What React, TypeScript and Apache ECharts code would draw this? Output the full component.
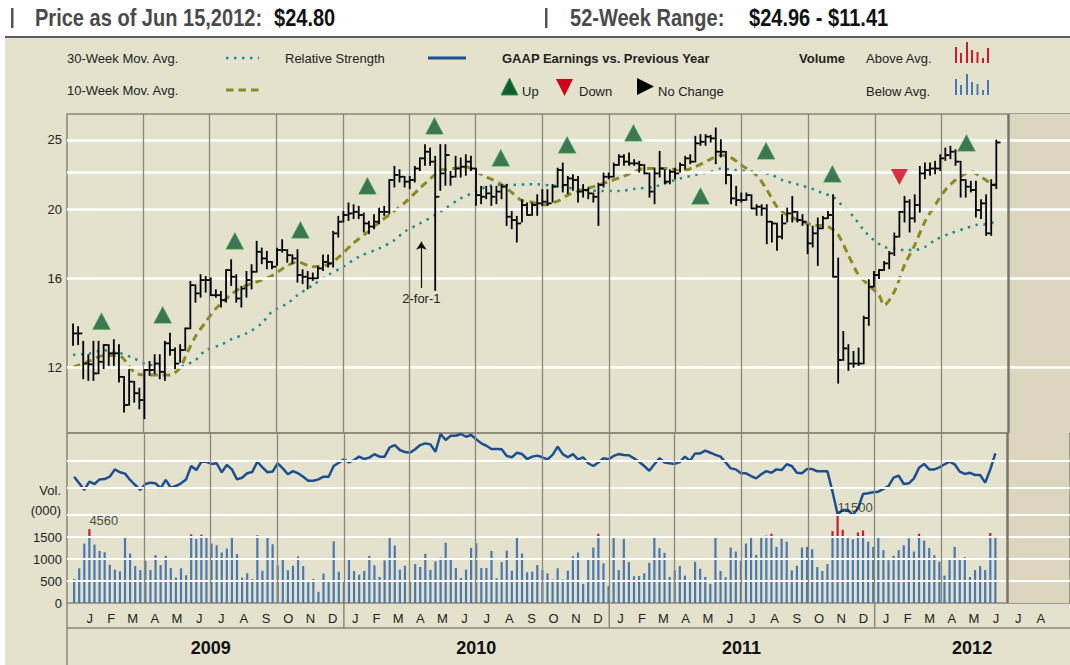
import React, { useEffect, useRef } from "react";
import * as echarts from "echarts";

const FONT = '"Liberation Sans", Arial, Helvetica, sans-serif';
const DAY = 86400000;
const FIRST_WEEK = Date.UTC(2008, 11, 26);
const weekDate = (i: number) => FIRST_WEEK + i * 7 * DAY;
const X_MIN = Date.UTC(2009, 0, 1) - 14.27 * DAY;
const X_MAX = Date.UTC(2009, 0, 1) + 1362.1 * DAY;
const FUTURE_START = Date.UTC(2012, 6, 1);

// Weekly price bars (Dec 26 2008 .. Jun 15 2012)
const highs = [
  13.78, 13.66, 13.03, 12.48, 13.03, 13.03, 12.89, 12.89, 13.1, 12.89,
  11.63, 11.89, 11.45, 11.2, 11.89, 12.21, 12.48, 12.48, 13.03, 13.38,
  12.75, 12.89, 13.6, 15.81, 15.64, 16.16, 16.07, 15.99, 15.39, 15.31,
  16.42, 16.96, 16.16, 15.56, 16.33, 16.69, 18.0, 17.61, 17.42, 16.86,
  17.61, 18.09, 17.52, 17.23, 17.52, 16.42, 16.33, 16.25, 16.6, 17.23,
  17.23, 18.59, 19.51, 19.82, 20.37, 20.26, 20.15, 19.72, 19.2, 19.62,
  20.04, 20.15, 21.97, 22.93, 22.68, 22.2, 22.2, 22.93, 23.56, 24.6,
  24.33, 23.69, 24.6, 24.6, 22.56, 23.69, 23.56, 23.81, 23.69, 22.8,
  21.5, 21.5, 21.5, 21.5, 21.62, 21.62, 19.82, 19.51, 20.59, 20.37,
  20.37, 20.92, 21.27, 21.27, 21.62, 22.8, 23.18, 22.2, 22.33, 22.2,
  21.62, 21.39, 21.04, 21.72, 22.44, 22.44, 23.18, 23.81, 23.81, 23.94,
  23.43, 23.31, 23.06, 22.44, 22.8, 24.07, 22.68, 22.68, 22.8, 23.18,
  23.69, 23.81, 25.27, 25.41, 25.41, 25.35, 25.96, 25.0, 24.07, 22.33,
  21.5, 21.04, 21.04, 20.92, 20.26, 20.26, 20.26, 19.2, 19.09, 19.62,
  20.04, 20.81, 19.82, 19.62, 18.99, 18.9, 19.41, 19.51, 19.82, 20.92,
  17.05, 13.45, 12.89, 12.61, 12.75, 14.13, 15.9, 16.33, 16.42, 16.86,
  17.42, 18.49, 19.82, 20.81, 20.59, 20.92, 22.93, 23.18, 23.18, 23.31,
  23.81, 24.33, 24.47, 24.2, 23.31, 21.97, 21.85, 21.85, 20.59, 20.92,
  21.97, 24.96,
];
const lows = [
  12.89, 12.92, 11.57, 11.51, 11.51, 11.76, 11.96, 12.08, 12.08, 11.45,
  10.39, 10.62, 10.73, 10.5, 10.17, 11.7, 11.76, 11.57, 11.51, 12.48,
  11.96, 12.21, 12.68, 13.6, 14.82, 15.06, 15.31, 15.14, 15.06, 14.59,
  14.82, 15.64, 14.82, 14.59, 15.06, 15.47, 16.33, 16.78, 16.51, 16.51,
  16.69, 17.42, 16.86, 16.78, 15.81, 15.73, 15.47, 15.9, 15.99, 16.42,
  16.6, 16.6, 18.29, 19.2, 19.3, 19.41, 19.41, 18.59, 18.49, 18.79,
  19.09, 19.62, 19.72, 21.5, 21.85, 21.5, 21.39, 21.85, 22.68, 23.06,
  23.06, 15.4, 21.27, 21.62, 21.62, 22.2, 22.2, 22.33, 22.68, 20.26,
  20.37, 20.7, 20.26, 20.37, 20.7, 18.99, 18.79, 18.0, 19.2, 19.62,
  19.62, 19.62, 20.26, 20.26, 20.48, 21.5, 21.16, 21.04, 21.27, 20.48,
  20.81, 20.7, 20.48, 18.99, 21.5, 22.08, 22.2, 23.06, 23.06, 23.06,
  23.06, 22.56, 22.44, 20.81, 20.37, 22.2, 21.72, 21.72, 22.08, 22.56,
  22.8, 23.18, 23.31, 24.6, 24.6, 24.86, 23.18, 23.69, 21.72, 20.37,
  20.26, 20.48, 20.59, 20.04, 19.62, 19.62, 17.9, 18.0, 17.52, 18.19,
  19.2, 19.2, 19.2, 18.99, 17.33, 17.71, 16.69, 18.79, 19.41, 16.07,
  11.41, 12.28, 11.89, 12.01, 12.08, 12.14, 13.75, 15.56, 15.99, 16.42,
  16.51, 17.23, 18.29, 19.2, 18.59, 19.2, 19.82, 22.08, 22.33, 22.44,
  22.68, 23.43, 23.56, 23.06, 20.81, 20.81, 21.16, 19.51, 19.41, 18.39,
  18.39, 21.39,
];
const closes = [
  13.38, 13.38, 12.14, 12.11, 11.76, 12.21, 12.89, 12.55, 12.55, 11.63,
  10.62, 11.45, 11.03, 10.79, 11.89, 11.89, 12.14, 11.82, 12.96, 12.68,
  12.14, 12.68, 13.6, 15.64, 15.23, 15.9, 15.9, 15.14, 15.14, 14.9,
  16.42, 16.07, 14.98, 15.47, 15.9, 16.33, 17.42, 17.05, 16.86, 16.6,
  17.52, 17.52, 17.23, 17.05, 16.16, 16.07, 15.99, 15.99, 16.51, 16.86,
  16.78, 18.49, 19.2, 19.62, 19.72, 19.82, 19.62, 19.09, 18.9, 19.2,
  19.82, 19.82, 21.97, 22.33, 22.2, 21.85, 21.97, 22.8, 23.56, 24.07,
  23.31, 20.81, 22.44, 23.81, 22.2, 22.8, 22.93, 23.31, 22.8, 20.92,
  20.81, 21.04, 20.81, 21.16, 21.5, 19.51, 19.3, 19.09, 20.26, 19.62,
  20.26, 20.37, 20.48, 20.37, 21.5, 22.68, 21.62, 22.08, 21.97, 21.16,
  21.27, 21.04, 20.81, 21.62, 22.2, 22.2, 23.06, 23.69, 23.31, 23.18,
  23.18, 23.06, 22.44, 21.16, 22.44, 22.8, 21.85, 22.56, 22.44, 23.06,
  23.56, 23.31, 24.73, 24.86, 25.27, 25.13, 24.07, 24.07, 22.33, 20.7,
  20.59, 20.59, 20.92, 20.04, 20.15, 20.04, 19.2, 19.09, 18.29, 19.09,
  19.72, 19.82, 19.3, 19.2, 17.9, 18.49, 18.79, 19.41, 19.62, 16.07,
  12.28, 12.75, 12.14, 12.14, 12.14, 14.06, 15.56, 16.16, 16.42, 16.78,
  17.33, 18.29, 19.82, 20.48, 19.41, 20.26, 22.44, 22.68, 22.8, 22.8,
  23.56, 23.81, 24.07, 23.31, 21.97, 21.5, 21.27, 19.93, 20.37, 18.49,
  21.62, 24.8,
];

// Weekly volume (000), as drawn (tall weeks are capped on the chart)
const volumes = [
  548, 788, 1350, 1680, 1328, 1185, 1155, 870, 758, 720,
  1515, 1125, 840, 750, 960, 750, 1088, 863, 1073, 795,
  578, 788, 630, 1560, 1455, 1553, 1515, 1350, 1313, 1148,
  1238, 1500, 1110, 578, 675, 540, 1538, 735, 1493, 1335,
  855, 1020, 743, 848, 1058, 840, 473, 548, 255, 668,
  503, 1403, 713, 488, 998, 728, 645, 728, 1073, 855,
  593, 968, 1508, 1305, 758, 848, 525, 885, 818, 1118,
  750, 945, 1035, 1373, 998, 795, 570, 758, 1253, 1358,
  795, 795, 1185, 563, 930, 1193, 735, 1515, 1125, 698,
  713, 863, 750, 675, 533, 788, 533, 735, 1065, 1148,
  435, 998, 1260, 1575, 900, 390, 1515, 750, 1455, 930,
  608, 615, 675, 915, 1508, 1245, 1140, 593, 743, 840,
  623, 525, 938, 780, 593, 435, 1500, 728, 585, 1260,
  1170, 960, 1350, 1508, 1095, 1523, 1530, 1575, 1275, 1463,
  1395, 743, 848, 1260, 1275, 1223, 818, 728, 885, 1635,
  1988, 1665, 1493, 1448, 1605, 1650, 1395, 1275, 1500, 1200,
  975, 1073, 1200, 1313, 1470, 1170, 1575, 1418, 1253, 1088,
  938, 623, 998, 1275, 1013, 1043, 593, 750, 840, 750,
  1590, 1515,
];
const VOLUME_CAP = 1500;
const volumeNoteWeeks = [3, 150];
const volumeNotes = ["4560", "11500"];

// Relative strength (unitless index)
const relStrength = [
  74.3, 70.4, 66.5, 71.4, 70, 72.7, 72.9, 74.3, 78.6, 76.9,
  76.1, 72.4, 69.4, 66.5, 70, 70.8, 70.4, 67.5, 72.4, 67.8,
  68.8, 70.4, 72.7, 80.6, 78.2, 83.1, 83.1, 81.8, 82.2, 76.9,
  81.2, 78.6, 72.7, 73.7, 76.3, 77.1, 83.1, 79.8, 76.9, 77.3,
  82.2, 79.2, 75.7, 77.6, 76.3, 74.3, 71.9, 71.9, 72.7, 74.3,
  74.3, 80.6, 82.5, 84.5, 82.7, 84.1, 86.1, 84.7, 85.5, 87.5,
  86.1, 86.1, 91.6, 92.9, 90, 88.8, 88.4, 90.4, 92.9, 93.9,
  93.3, 89, 99.4, 95.9, 98.4, 98.4, 99.4, 97.8, 98.8, 96.3,
  93.9, 92.5, 90.6, 90.6, 90.4, 86.5, 85.7, 88.4, 87.6, 84.7,
  86.1, 86.7, 85.7, 84.5, 87.1, 92, 87.6, 85.7, 87.6, 84.5,
  85.7, 82.2, 80.6, 82.7, 85.1, 84.5, 86.5, 87.6, 87.1, 86.9,
  85.1, 83.1, 80.6, 77.8, 81.6, 85.1, 82.7, 82.2, 81.8, 82.9,
  86.1, 83.7, 88, 88, 89.6, 88.4, 87.1, 86.1, 82.7, 79.2,
  78.6, 76.3, 76.3, 74.7, 73.3, 75.7, 77.6, 76.6, 78.6, 78.2,
  81.6, 80.6, 76.6, 76.3, 78.8, 78.8, 77.5, 77.5, 77.5, 65.5,
  52.2, 54.7, 54.7, 51.8, 55.7, 64.1, 64.5, 65.1, 65.5, 67.1,
  68.8, 73.7, 74.9, 70, 70.4, 73.3, 79.6, 81.8, 78.6, 78.6,
  79.8, 81.6, 83.1, 81.6, 77.3, 75.9, 76.6, 75.3, 75.3, 70.8,
  78.6, 88,
];

// Moving averages read at [week index, price]
const ma10 = [
  [0, 12.0], [3, 12.22], [6, 12.46], [9, 12.45], [12, 11.8], [14, 11.7], [17, 11.7], [19, 11.7],
  [21, 11.98], [22, 12.4], [24, 13.25], [26, 13.88], [28, 14.5], [31, 15.18], [33, 15.52], [36, 15.81],
  [39, 16.12], [41, 16.48], [44, 16.86], [47, 16.6], [50, 16.72], [52, 17.1], [55, 17.92], [58, 18.62],
  [60, 19.16], [63, 19.88], [65, 20.4], [68, 21.39], [71, 22.38], [72, 22.68], [75, 22.82], [77, 22.93],
  [79, 22.56], [81, 22.2], [84, 21.65], [86, 21.1], [88, 20.55], [90, 20.45], [92, 20.26], [95, 20.52],
  [97, 20.92], [100, 21.3], [102, 21.5], [105, 21.85], [108, 22.25], [110, 22.56], [112, 22.8], [114, 22.8],
  [117, 22.8], [119, 22.6], [122, 22.93], [125, 23.5], [127, 23.81], [129, 23.62], [131, 23.06], [134, 22.3],
  [136, 21.3], [138, 20.15], [140, 19.62], [143, 19.2], [145, 19.0], [148, 18.9], [150, 18.4], [152, 17.23],
  [154, 16.16], [156, 15.64], [158, 15.14], [159, 14.66], [161, 15.31], [163, 16.69], [165, 17.8], [167, 19.2],
  [169, 20.26], [171, 21.27], [173, 21.97], [175, 22.44], [176, 22.56], [178, 22.2], [180, 21.72], [181, 21.62],
];
const ma30 = [
  [0, 12.49], [3, 12.53], [6, 12.67], [9, 12.57], [12, 12.34], [14, 12.14], [17, 12.01], [20, 11.97],
  [22, 12.08], [24, 12.28], [26, 12.67], [29, 12.9], [31, 13.13], [34, 13.38], [37, 13.82], [39, 14.35],
  [42, 14.74], [44, 15.14], [47, 15.64], [50, 16.16], [53, 16.6], [56, 17.14], [60, 17.61], [63, 18.09],
  [65, 18.59], [68, 19.09], [71, 19.62], [73, 20.05], [76, 20.7], [79, 21.16], [81, 21.5], [84, 21.62],
  [86, 21.62], [89, 21.66], [91, 21.66], [94, 21.57], [97, 21.43], [100, 21.27], [104, 21.2], [107, 21.2],
  [110, 21.34], [114, 21.5], [117, 21.85], [119, 22.08], [122, 22.33], [125, 22.56], [127, 22.8], [130, 22.68],
  [132, 22.61], [135, 22.51], [137, 22.33], [139, 21.97], [142, 21.66], [145, 21.34], [147, 21.04], [149, 20.81],
  [151, 20.15], [153, 19.51], [155, 18.69], [157, 18.09], [159, 17.7], [161, 17.61], [163, 17.52], [165, 17.52],
  [167, 17.7], [169, 18.09], [172, 18.49], [175, 18.79], [177, 19.0], [180, 19.09], [181, 19.45],
];

// GAAP earnings vs previous year markers
const earningsDates = [
  "2009-02-03", "2009-04-28", "2009-08-05", "2009-11-03", "2010-02-03", "2010-05-06", "2010-08-05",
  "2010-11-04", "2011-02-03", "2011-05-06", "2011-08-04", "2011-11-03", "2012-02-03", "2012-05-05",
];
const earningsLevels = [13.92, 14.2, 18.04, 18.69, 21.55, 26.16, 23.59, 24.6, 25.57, 20.86, 24.13, 22.4, 22.18, 24.76];
const earningsDir = ["up", "up", "up", "up", "up", "up", "up", "up", "up", "up", "up", "up", "down", "up"];

const splitNoteDate = "2010-04-18";
const splitArrowFrom = 15.5;
const splitArrowTo = 18.0;

const priceGridLevels = [12, 16, 20, 22.5, 25];
const priceTickLabels = [12, 16, 20, 25];
const volumeGridLevels = [500, 1000, 1500, 2000, 2614, 3227];
const quarterLines = [
  "2009-04-01", "2009-07-01", "2009-10-01", "2010-01-01", "2010-04-01", "2010-07-01", "2010-10-01",
  "2011-01-01", "2011-04-01", "2011-07-01", "2011-10-01", "2012-01-01", "2012-04-01",
];
const yearBoundaries = ["2010-01-01", "2011-01-01", "2012-01-01"];
const monthLetters = ["J", "F", "M", "A", "M", "J", "J", "A", "S", "O", "N", "D"];
const yearLabels = ["2009", "2010", "2011", "2012"];
const yearLabelDates = ["2009-07-02", "2010-07-02", "2011-07-02", "2012-05-14"];

const BEIGE = "#e4e2cc";
const FUTURE = "#dcd6be";
const FRAME = "#8b877a";

function buildOption() {
  const months: number[][] = [];
  for (let y = 2009; y <= 2012; y++) {
    for (let m = 0; m < 12; m++) {
      if (y === 2012 && m > 7) break;
      const a = Date.UTC(y, m, 1);
      const b = Date.UTC(y, m + 1, 1);
      months.push([(a + b) / 2, 0, m]);
    }
  }

  const txt = (x: number, y: number, text: string, extra: any = {}) => ({
    type: "text",
    x,
    y,
    style: {
      text,
      fill: "#222",
      fontSize: 13,
      fontFamily: FONT,
      align: "left",
      verticalAlign: "middle",
      ...extra,
    },
  });

  // condensed bold header text (regular bold face squeezed horizontally)
  const head = (x: number, text: string, fill: string) => ({
    type: "text",
    x,
    y: 18,
    scaleX: 0.835,
    style: {
      text,
      x: 0,
      y: 0,
      fill,
      fontSize: 24,
      fontWeight: "bold",
      fontFamily: FONT,
      align: "left",
      verticalAlign: "middle",
    },
  });

  const iconHeights = [16, 10, 21, 13, 11, 5, 15];
  const iconXs = [956, 961, 967, 972, 977.5, 983, 988];
  const iconBars = (base: number, color: string) =>
    iconHeights.map((h, k) => ({
      type: "rect",
      shape: { x: iconXs[k] - 1, y: base - h, width: 2, height: h },
      style: { fill: color },
    }));

  const graphic: any[] = [
    { type: "rect", z: -10, shape: { x: 5, y: 38, width: 1065, height: 627 }, style: { fill: BEIGE } },
    { type: "rect", shape: { x: 5, y: 36, width: 1065, height: 2 }, style: { fill: "#5c5c5c" } },
    { type: "rect", shape: { x: 11, y: 8, width: 2.5, height: 20 }, style: { fill: "#555" } },
    head(35, "Price as of Jun 15,2012:", "#4a4a4a"),
    head(274, "$24.80", "#111"),
    { type: "rect", shape: { x: 545, y: 8, width: 2.5, height: 20 }, style: { fill: "#555" } },
    head(570, "52-Week Range:", "#4a4a4a"),
    head(749, "$24.96 - $11.41", "#111"),

    txt(67, 58, "30-Week Mov. Avg."),
    { type: "line", shape: { x1: 226, y1: 58, x2: 259, y2: 58 }, style: { stroke: "#1f8c8c", lineWidth: 2.5, lineDash: [2.5, 5.5] } },
    txt(67, 90, "10-Week Mov. Avg."),
    { type: "line", shape: { x1: 226, y1: 90, x2: 259, y2: 90 }, style: { stroke: "#8c8a22", lineWidth: 3, lineDash: [7.5, 5] } },
    txt(285, 58, "Relative Strength"),
    { type: "line", shape: { x1: 428, y1: 58, x2: 466, y2: 58 }, style: { stroke: "#1b4f91", lineWidth: 3 } },
    txt(502, 58, "GAAP Earnings vs. Previous Year", { fontWeight: "bold" }),
    { type: "polygon", shape: { points: [[501, 95], [509.5, 78], [518, 95]] }, style: { fill: "#145a36", stroke: "#2c9a3c", lineWidth: 1 } },
    txt(522, 91, "Up"),
    { type: "polygon", shape: { points: [[556, 79], [573, 79], [564.5, 96]] }, style: { fill: "#d0021b" } },
    txt(579, 91, "Down"),
    { type: "polygon", shape: { points: [[637, 78], [654, 86.5], [637, 95]] }, style: { fill: "#000" } },
    txt(658, 91, "No Change"),
    txt(799, 58, "Volume", { fontWeight: "bold" }),
    txt(866, 58, "Above Avg."),
    txt(866, 91, "Below Avg."),
    ...iconBars(63, "#cc1a2b"),
    ...iconBars(95, "#4a78b0"),

    txt(61, 490, "Vol.", { align: "right" }),
    txt(61, 510, "(000)", { align: "right" }),
    { type: "line", shape: { x1: 67, y1: 628, x2: 1070, y2: 628 }, style: { stroke: FRAME, lineWidth: 1.5 } },
    { type: "line", shape: { x1: 67, y1: 603, x2: 67, y2: 665 }, style: { stroke: FRAME, lineWidth: 1.5 } },
  ];

  const timeAxis = (gridIndex: number) => ({
    type: "time",
    gridIndex,
    min: X_MIN,
    max: X_MAX,
    axisLabel: { show: false },
    axisLine: { show: false },
    axisTick: { show: false },
    splitLine: { show: false },
  });

  const vLines = (color: string) => ({
    silent: true,
    symbol: ["none", "none"],
    label: { show: false },
    emphasis: { disabled: true },
    lineStyle: { color, width: 1.3, type: "solid" },
    data: [
      ...quarterLines.map((d) => ({ xAxis: Date.parse(d) })),
      { xAxis: FUTURE_START, lineStyle: { color: "#7a766a", width: 2.5, type: "solid" } },
    ],
  });

  const futureArea = {
    silent: true,
    itemStyle: { color: FUTURE },
    emphasis: { disabled: true },
    data: [[{ xAxis: FUTURE_START }, { xAxis: X_MAX }]],
  };

  const series: any[] = [
    {
      name: "priceBg",
      type: "line",
      xAxisIndex: 0,
      yAxisIndex: 0,
      data: [],
      z: 1,
      markArea: futureArea,
      markLine: {
        silent: true,
        symbol: ["none", "none"],
        emphasis: { disabled: true },
        lineStyle: { color: "#ffffff", width: 2.5, type: "solid" },
        label: { position: "start", distance: 5, color: "#222", fontSize: 13, fontFamily: FONT },
        data: priceGridLevels.map((v) => ({
          yAxis: v,
          label: { show: priceTickLabels.indexOf(v) >= 0, formatter: String(v) },
        })),
      },
    },
    {
      name: "volBg",
      type: "line",
      xAxisIndex: 1,
      yAxisIndex: 1,
      data: [],
      z: 1,
      markArea: futureArea,
      markLine: {
        silent: true,
        symbol: ["none", "none"],
        emphasis: { disabled: true },
        label: { show: false },
        lineStyle: { color: "#ffffff", width: 2, type: "solid" },
        data: volumeGridLevels.map((v) => ({ yAxis: v })),
      },
    },
    { name: "qTop", type: "line", xAxisIndex: 0, yAxisIndex: 0, data: [], z: 2, markLine: vLines(FRAME) },
    { name: "qBottom", type: "line", xAxisIndex: 1, yAxisIndex: 1, data: [], z: 2, markLine: vLines(FRAME) },
    {
      name: "Volume",
      type: "bar",
      xAxisIndex: 1,
      yAxisIndex: 1,
      stack: "vol",
      barWidth: 2.2,
      z: 3,
      itemStyle: { color: "#4a78b0" },
      data: volumes.map((v, i) => [weekDate(i), Math.min(v, VOLUME_CAP)]),
    },
    {
      name: "VolumeAbove",
      type: "bar",
      xAxisIndex: 1,
      yAxisIndex: 1,
      stack: "vol",
      barWidth: 2.2,
      z: 3,
      itemStyle: { color: "#cc1a2b" },
      data: volumes.map((v, i) => [weekDate(i), Math.max(v - VOLUME_CAP, 0)]),
    },
    {
      name: "Relative Strength",
      type: "line",
      xAxisIndex: 1,
      yAxisIndex: 2,
      showSymbol: false,
      z: 4,
      lineStyle: { color: "#1b4f91", width: 2.5 },
      data: relStrength.map((v, i) => [weekDate(i), v]),
    },
    {
      name: "30-Week Mov. Avg.",
      type: "line",
      xAxisIndex: 0,
      yAxisIndex: 0,
      showSymbol: false,
      smooth: 0.3,
      z: 4,
      lineStyle: { color: "#1f8c8c", width: 2.5, type: [2.5, 5.5] },
      data: ma30.map(([w, v]) => [weekDate(w), v]),
    },
    {
      name: "10-Week Mov. Avg.",
      type: "line",
      xAxisIndex: 0,
      yAxisIndex: 0,
      showSymbol: false,
      smooth: 0.3,
      z: 4,
      lineStyle: { color: "#8c8a22", width: 3, type: [7.5, 5] },
      data: ma10.map(([w, v]) => [weekDate(w), v]),
    },
    {
      name: "Price",
      type: "custom",
      xAxisIndex: 0,
      yAxisIndex: 0,
      z: 5,
      encode: { x: 0, y: [1, 2, 3] },
      data: highs.map((h, i) => [weekDate(i), h, lows[i], closes[i]]),
      renderItem: (params: any, api: any) => {
        const x = api.value(0);
        const pH = api.coord([x, api.value(1)]);
        const pL = api.coord([x, api.value(2)]);
        const pC = api.coord([x, api.value(3)]);
        return {
          type: "group",
          children: [
            { type: "line", shape: { x1: pH[0], y1: pH[1] - 0.8, x2: pL[0], y2: pL[1] + 0.8 }, style: { stroke: "#000", lineWidth: 1.8 } },
            { type: "line", shape: { x1: pC[0], y1: pC[1], x2: pC[0] + 4.2, y2: pC[1] }, style: { stroke: "#000", lineWidth: 1.8 } },
          ],
        };
      },
    },
    {
      name: "Earnings",
      type: "scatter",
      xAxisIndex: 0,
      yAxisIndex: 0,
      z: 6,
      symbol: "triangle",
      symbolSize: [17, 16],
      data: earningsDates.map((d, i) => ({
        value: [Date.parse(d), earningsLevels[i]],
        symbolRotate: earningsDir[i] === "down" ? 180 : 0,
        itemStyle:
          earningsDir[i] === "down"
            ? { color: "#d0021b", borderWidth: 0 }
            : { color: "#145a36", borderColor: "#2c9a3c", borderWidth: 1 },
      })),
    },
    {
      name: "split",
      type: "line",
      xAxisIndex: 0,
      yAxisIndex: 0,
      data: [],
      z: 6,
      markLine: {
        silent: true,
        symbol: ["none", "arrow"],
        symbolSize: 8,
        emphasis: { disabled: true },
        lineStyle: { color: "#111", width: 1.2, type: "solid" },
        label: { show: true, position: "start", formatter: "2-for-1", color: "#222", fontSize: 13, fontFamily: FONT, distance: 4 },
        data: [[{ coord: [Date.parse(splitNoteDate), splitArrowFrom] }, { coord: [Date.parse(splitNoteDate), splitArrowTo] }]],
      },
    },
    {
      name: "volNotes",
      type: "scatter",
      xAxisIndex: 1,
      yAxisIndex: 1,
      symbolSize: 0,
      z: 6,
      silent: true,
      label: {
        show: true,
        position: "top",
        align: "left",
        distance: 2,
        color: "#222",
        fontSize: 13,
        fontFamily: FONT,
        formatter: (p: any) => volumeNotes[p.dataIndex],
      },
      data: volumeNoteWeeks.map((w) => [weekDate(w), volumes[w]]),
    },
    {
      name: "months",
      type: "custom",
      xAxisIndex: 1,
      yAxisIndex: 1,
      silent: true,
      encode: { x: 0, y: 1 },
      data: months,
      renderItem: (params: any, api: any) => {
        const p = api.coord([api.value(0), 0]);
        return {
          type: "text",
          style: {
            text: monthLetters[api.value(2)],
            x: p[0],
            y: p[1] + 15,
            fill: "#222",
            fontSize: 13,
            fontFamily: FONT,
            align: "center",
            verticalAlign: "middle",
          },
        };
      },
    },
    {
      name: "years",
      type: "custom",
      xAxisIndex: 1,
      yAxisIndex: 1,
      silent: true,
      encode: { x: 0, y: 1 },
      data: yearLabelDates.map((d, i) => [Date.parse(d), 0, i]),
      renderItem: (params: any, api: any) => {
        const p = api.coord([api.value(0), 0]);
        return {
          type: "text",
          style: {
            text: yearLabels[api.value(2)],
            x: p[0],
            y: p[1] + 45,
            fill: "#111",
            fontSize: 18,
            fontWeight: "bold",
            fontFamily: FONT,
            align: "center",
            verticalAlign: "middle",
          },
        };
      },
    },
    {
      name: "yearSeparators",
      type: "custom",
      xAxisIndex: 1,
      yAxisIndex: 1,
      silent: true,
      encode: { x: 0, y: 1 },
      data: yearBoundaries.map((d) => [Date.parse(d), 0]),
      renderItem: (params: any, api: any) => {
        const p = api.coord([api.value(0), 0]);
        return {
          type: "line",
          shape: { x1: p[0], y1: p[1], x2: p[0], y2: p[1] + 25 },
          style: { stroke: FRAME, lineWidth: 1.5 },
        };
      },
    },
  ];

  return {
    animation: false,
    backgroundColor: "#ffffff",
    textStyle: { fontFamily: FONT },
    grid: [
      { left: 67, top: 114, width: 1003, height: 319, show: true, borderColor: FRAME, borderWidth: 1.5, backgroundColor: "transparent" },
      { left: 67, top: 433, width: 1003, height: 170, show: true, borderColor: FRAME, borderWidth: 1.5, backgroundColor: "transparent" },
    ],
    xAxis: [timeAxis(0), timeAxis(1)],
    yAxis: [
      {
        type: "log",
        logBase: 10,
        gridIndex: 0,
        min: 9.7,
        max: 27.19,
        axisLabel: { show: false },
        axisLine: { show: false },
        axisTick: { show: false },
        splitLine: { show: false },
      },
      {
        type: "value",
        gridIndex: 1,
        min: 0,
        max: 3864,
        interval: 500,
        axisLabel: {
          color: "#222",
          fontSize: 13,
          fontFamily: FONT,
          margin: 5,
          formatter: (v: number) => (v <= 1500 ? String(v) : ""),
        },
        axisLine: { show: false },
        axisTick: { show: false },
        splitLine: { show: false },
      },
      { type: "value", gridIndex: 1, min: 0, max: 100, show: false, splitLine: { show: false } },
    ],
    graphic,
    series,
  };
}

export default function App() {
  const ref = useRef<HTMLDivElement>(null);
  useEffect(() => {
    if (!ref.current) return;
    const chart = echarts.init(ref.current, undefined, { renderer: "svg" });
    chart.setOption(buildOption() as any);
    return () => chart.dispose();
  }, []);
  return <div ref={ref} style={{ position: "absolute", left: 0, top: 0, width: 1070, height: 665 }} />;
}
